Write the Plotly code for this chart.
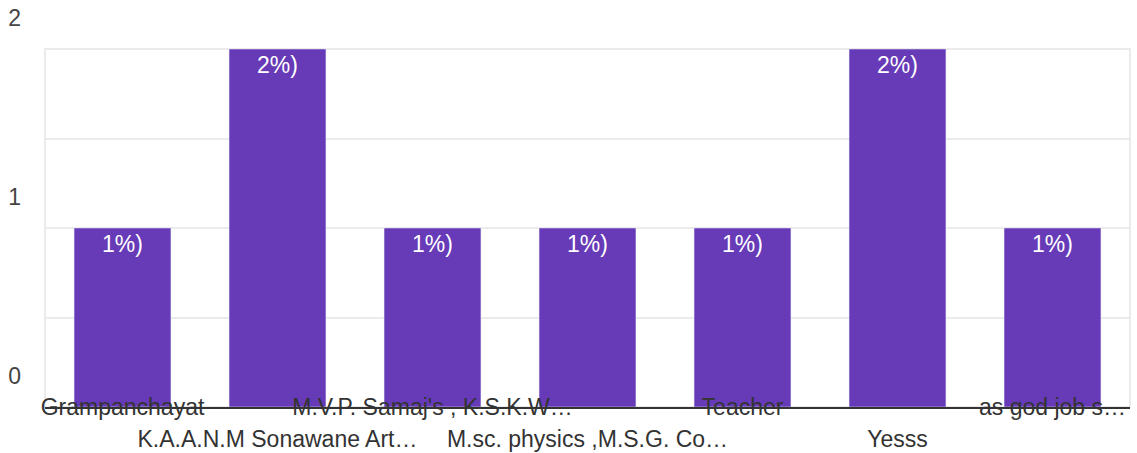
import plotly.graph_objects as go

categories = [
    "Grampanchayat",
    "K.A.A.N.M Sonawane Art…",
    "M.V.P. Samaj's , K.S.K.W…",
    "M.sc. physics ,M.S.G. Co…",
    "Teacher",
    "Yesss",
    "as god job s…",
]
counts = [1, 2, 1, 1, 1, 2, 1]
bar_labels = ["1%)", "2%)", "1%)", "1%)", "1%)", "2%)", "1%)"]
y_tickvals = [0, 0.5, 1, 1.5, 2]
y_ticktext = ["0", "", "1", "", "2"]

PURPLE = "#673ab7"
GRID = "#ebebeb"
FONT = "Liberation Sans, Arial, sans-serif"
FS = 23

fig = go.Figure()
fig.add_trace(go.Bar(
    x=categories, y=counts, text=bar_labels,
    marker=dict(color=PURPLE, line=dict(width=0)),
    textposition="inside", insidetextanchor="end",
    textfont=dict(color="white", size=FS, family=FONT),
    cliponaxis=False, hoverinfo="x+y",
))
# invisible twin trace on a second x-axis carrying the second row of labels
fig.add_trace(go.Bar(
    x=categories, y=counts, xaxis="x2", yaxis="y",
    marker=dict(color="rgba(0,0,0,0)"), hoverinfo="skip", showlegend=False,
))

fig.update_layout(
    width=1137, height=453,
    margin=dict(l=45, r=7, t=49, b=46),
    paper_bgcolor="white", plot_bgcolor="white",
    showlegend=False, bargap=0.375, barmode="overlay",
    font=dict(family=FONT, size=FS, color="#333"),
    xaxis=dict(
        type="category", categoryorder="array", categoryarray=categories,
        tickvals=categories[0::2], ticktext=categories[0::2],
        showgrid=False, showline=True, linecolor="#333", linewidth=2,
        ticks="", ticklabelstandoff=-22, tickangle=0, automargin=False,
        tickfont=dict(size=FS, color="#333", family=FONT),
    ),
    xaxis2=dict(
        type="category", categoryorder="array", categoryarray=categories,
        overlaying="x", anchor="y", side="bottom", matches="x",
        tickvals=categories[1::2], ticktext=categories[1::2],
        showgrid=False, showline=False, zeroline=False,
        ticks="", ticklabelstandoff=16, tickangle=0, automargin=False,
        tickfont=dict(size=FS, color="#333", family=FONT),
    ),
    yaxis=dict(
        range=[0, 2], tickvals=y_tickvals, ticktext=y_ticktext,
        showgrid=True, gridcolor=GRID, gridwidth=2,
        zeroline=False, showline=False, ticks="", automargin=False,
        ticklabelshift=-31, ticklabelstandoff=23,
        tickfont=dict(size=FS, color="#444", family=FONT),
    ),
    shapes=[dict(
        type="rect", xref="paper", yref="paper", x0=0, x1=1, y0=0, y1=1,
        line=dict(color=GRID, width=2), fillcolor="rgba(0,0,0,0)", layer="below",
    )],
)

fig.write_html(
    "out.html",
    config={"displayModeBar": False},
    post_script="document.body.style.margin='0';",
)
